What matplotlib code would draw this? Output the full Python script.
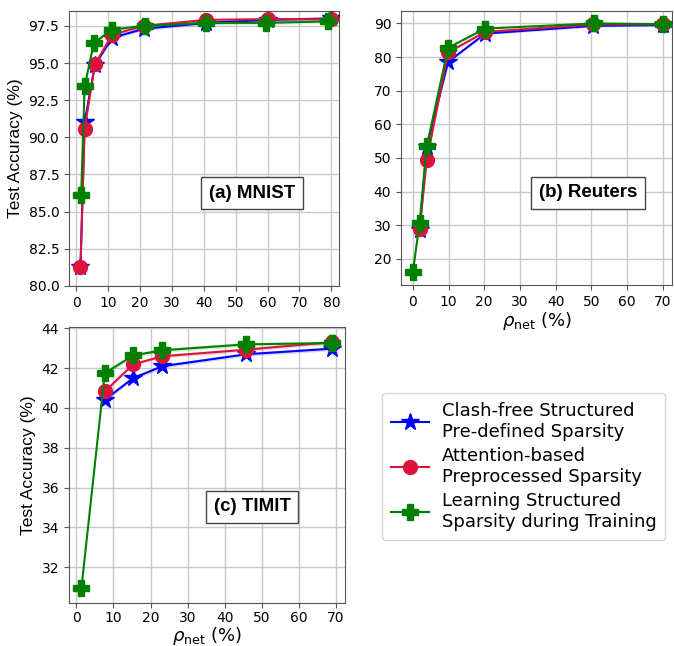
import numpy as np
import matplotlib
matplotlib.use("Agg")
import matplotlib.pyplot as plt

# MNIST
mnist_x = [1.3, 2.6, 5.8, 11.2, 21.2, 40.8, 60.1, 80.0]
mnist_x_green = [1.5, 2.6, 5.5, 11.2, 21.4, 40.6, 59.6, 79.0]
mnist_clash = [81.3, 91.0, 94.85, 96.7, 97.3, 97.7, 97.9, 98.0]
mnist_attn = [81.3, 90.55, 94.9, 96.9, 97.5, 97.9, 97.95, 97.95]
mnist_learn = [86.1, 93.45, 96.35, 97.25, 97.5, 97.7, 97.7, 97.8]

# Reuters
reut_x = [1.9, 3.9, 9.9, 20.3, 50.6, 70.0]
reut_x_green = [0.0, 1.9, 3.9, 9.9, 20.3, 50.8, 70.0]
reut_clash = [28.5, 53.3, 78.6, 87.0, 89.3, 89.5]
reut_attn = [28.75, 49.3, 81.4, 87.5, 89.7, 89.7]
reut_learn = [16.0, 30.7, 53.5, 82.8, 88.5, 90.0, 89.8]

# TIMIT
timit_x = [7.65, 15.3, 23.2, 45.9, 68.9]
timit_x_green = [1.35, 7.65, 15.3, 23.2, 45.9, 68.9]
timit_clash = [40.41, 41.5, 42.1, 42.7, 42.98]
timit_attn = [40.83, 42.19, 42.6, 42.93, 43.31]
timit_learn = [30.95, 41.75, 42.64, 42.9, 43.2, 43.26]

labels = ["Clash-free Structured\nPre-defined Sparsity",
          "Attention-based\nPreprocessed Sparsity",
          "Learning Structured\nSparsity during Training"]
colors = ["blue", "crimson", "green"]
markers = ["*", "o", "P"]
msizes = [13, 10, 11]

plt.rcParams['font.family'] = ['DejaVu Sans']

fig = plt.figure(figsize=(6.74, 6.46), dpi=100)
ax1 = fig.add_axes([0.1024, 0.5573, 0.4006, 0.4257])
ax2 = fig.add_axes([0.595, 0.5588, 0.402, 0.4241])
ax3 = fig.add_axes([0.1024, 0.0666, 0.4095, 0.4272])


def draw(ax, xs, ys, band):
    handles = []
    for k in range(3):
        x = np.array(xs[k])
        y = np.array(ys[k])
        ax.fill_between(x, y - band, y + band, color=colors[k], alpha=0.15, lw=0)
        h, = ax.plot(x, y, color=colors[k], marker=markers[k], markersize=msizes[k],
                     lw=1.5, label=labels[k], zorder=3 + k)
        handles.append(h)
    ax.grid(True, color='#c8c8c8', lw=1)
    ax.set_axisbelow(True)
    for s in ax.spines.values():
        s.set_color('#555555')
    ax.tick_params(labelsize=10, color='#555555')
    return handles


def boxlabel(ax, x, y, txt):
    ax.text(x, y, txt, transform=ax.transAxes, ha='center', va='center',
            fontsize=13.5, family='Liberation Sans', weight='bold', zorder=10,
            bbox=dict(boxstyle='square,pad=0.4', fc='white', ec='#444444'))


draw(ax1, [mnist_x, mnist_x, mnist_x_green], [mnist_clash, mnist_attn, mnist_learn], 0.12)
ax1.set_xlim(-2.3, 82.4)
ax1.set_ylim(80, 98.5)
ax1.set_xticks(np.arange(0, 81, 10))
ax1.set_yticks(np.arange(80, 97.6, 2.5))
ax1.set_ylabel("Test Accuracy (%)", fontsize=12.5, family='Liberation Sans')
boxlabel(ax1, 0.678, 0.338, "(a) MNIST")

draw(ax2, [reut_x, reut_x, reut_x_green], [reut_clash, reut_attn, reut_learn], 0.4)
ax2.set_xlim(-3.3, 72.6)
ax2.set_ylim(12.2, 93.7)
ax2.set_xticks(np.arange(0, 71, 10))
ax2.set_yticks(np.arange(20, 91, 10))
ax2.set_xlabel(r"$\rho_{\rm net}$ (%)", fontsize=13, labelpad=1)
boxlabel(ax2, 0.69, 0.336, "(b) Reuters")

handles = draw(ax3, [timit_x, timit_x, timit_x_green], [timit_clash, timit_attn, timit_learn], 0.1)
ax3.set_xlim(-2, 72.5)
ax3.set_ylim(30.2, 44.07)
ax3.set_xticks(np.arange(0, 71, 10))
ax3.set_yticks(np.arange(32, 44.1, 2))
ax3.tick_params(axis='x', pad=2.5)
ax3.set_ylabel("Test Accuracy (%)", fontsize=12.5, family='Liberation Sans')
ax3.set_xlabel(r"$\rho_{\rm net}$ (%)", fontsize=13, labelpad=0)
boxlabel(ax3, 0.663, 0.348, "(c) TIMIT")

fig.legend(handles=handles, loc='upper left', bbox_to_anchor=(382 / 674, 1 - 393 / 646),
           fontsize=13, frameon=True, handlelength=2.1, borderpad=0.5,
           labelspacing=0.35, handletextpad=0.7, borderaxespad=0)

fig.savefig("out.png", dpi=100)
